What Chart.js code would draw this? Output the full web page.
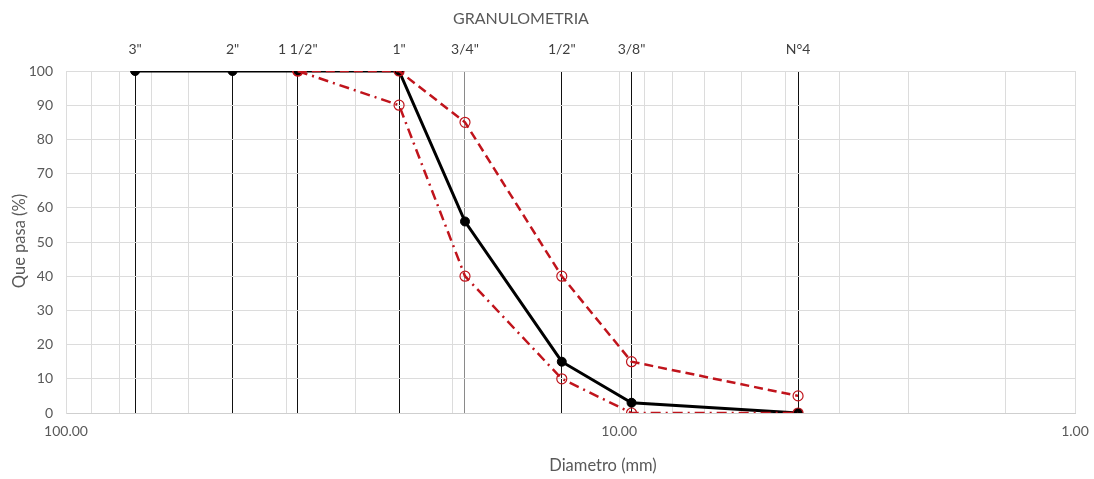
<!DOCTYPE html>
<html>
<head>
<meta charset="utf-8">
<script src="https://cdn.jsdelivr.net/npm/chart.js@4/dist/chart.umd.min.js"></script>
<style>
  html, body { margin: 0; padding: 0; background: #fff; }
  #wrap { width: 1094px; height: 479px; position: relative; }
</style>
</head>
<body>
<div id="wrap"><canvas id="chart"></canvas></div>
<script>
// Tamices y su abertura en mm
const sieveLabels = ['3"', '2"', '1 1/2"', '1"', '3/4"', '1/2"', '3/8"', 'N°4'];
const sieveSizes  = [75, 50, 38.1, 25, 19, 12.7, 9.5, 4.75];

// Porcentaje que pasa: muestra y límites del huso
const passing    = [100, 100, 100, 100, 56, 15, 3, 0];
const upperLimit = [null, null, 100, 100, 85, 40, 15, 5];
const lowerLimit = [null, null, 100, 90, 40, 10, 0, 0];

// Eje de diámetros (escala logarítmica invertida)
const xMax = 100;
const xMin = 1.5;
const xTickValues = [100, 10, 1.5];
const xTickLabels = ['100.00', '10.00', '1.00'];
const xMinorGrid  = [90, 80, 70, 60, 50, 40, 30, 20, 9, 8, 7, 6, 5, 4, 3, 2];

const toPoints = vals => sieveSizes
  .map((x, i) => (vals[i] === null ? null : { x: x, y: vals[i] }))
  .filter(p => p !== null);

const RED = '#c0141c';
const FONT = 'Lato, "Open Sans", sans-serif';
const GREY_TEXT = '#595959';

const titles = {
  id: 'titles',
  afterDraw(chart) {
    const c = chart.ctx;
    c.save();
    c.fillStyle = GREY_TEXT;
    c.textAlign = 'center';
    c.textBaseline = 'middle';
    c.font = '16px ' + FONT;
    c.fillText('GRANULOMETRIA', 521, 19);
    c.font = '16.5px ' + FONT;
    c.fillText('Diametro (mm)', 603, 466);
    c.translate(20, 241);
    c.rotate(-Math.PI / 2);
    c.fillText('Que pasa (%)', 0, 0);
    c.restore();
  }
};

new Chart(document.getElementById('chart'), {
  type: 'scatter',
  data: {
    datasets: [
      {
        label: 'Límite superior',
        data: toPoints(upperLimit),
        showLine: true,
        borderColor: RED,
        borderWidth: 2.5,
        borderDash: [9, 5],
        pointRadius: 5,
        pointBorderWidth: 1.2,
        pointBorderColor: RED,
        pointBackgroundColor: 'rgba(0,0,0,0)',
        order: 0
      },
      {
        label: 'Límite inferior',
        data: toPoints(lowerLimit),
        showLine: true,
        borderColor: RED,
        borderWidth: 2.5,
        borderDash: [10, 5, 2, 5],
        pointRadius: 5,
        pointBorderWidth: 1.2,
        pointBorderColor: RED,
        pointBackgroundColor: 'rgba(0,0,0,0)',
        order: 0
      },
      {
        label: 'Muestra',
        data: toPoints(passing),
        showLine: true,
        borderColor: '#000',
        borderWidth: 3,
        pointRadius: 4.5,
        pointBorderWidth: 1,
        pointBorderColor: '#000',
        pointBackgroundColor: '#000',
        order: 1
      }
    ]
  },
  options: {
    responsive: true,
    maintainAspectRatio: false,
    animation: false,
    layout: { padding: { top: 0, left: 0, right: 19, bottom: 0 } },
    plugins: {
      legend: { display: false },
      tooltip: { enabled: false },
      title: { display: false }
    },
    scales: {
      x: {
        type: 'logarithmic',
        position: 'bottom',
        reverse: true,
        min: xMin,
        max: xMax,
        afterBuildTicks: s => {
          s.ticks = xTickValues.concat(xMinorGrid).map(v => ({ value: v }));
        },
        afterFit: s => { s.height = 66; },
        ticks: {
          autoSkip: false,
          maxRotation: 0,
          padding: 10,
          color: GREY_TEXT,
          font: { family: FONT, size: 14 },
          callback: function (value) {
            const i = xTickValues.indexOf(value);
            return i >= 0 ? xTickLabels[i] : '';
          }
        },
        grid: { color: '#dcdcdc', lineWidth: 1, drawTicks: false },
        border: { color: '#cfcfcf' }
      },
      xTop: {
        type: 'logarithmic',
        position: 'top',
        reverse: true,
        min: xMin,
        max: xMax,
        afterBuildTicks: s => {
          s.ticks = sieveSizes.map(v => ({ value: v }));
        },
        afterFit: s => { s.height = 71; },
        ticks: {
          autoSkip: false,
          maxRotation: 0,
          padding: 13,
          color: '#404040',
          font: { family: FONT, size: 14 },
          callback: function (value) {
            const i = sieveSizes.indexOf(value);
            return i >= 0 ? sieveLabels[i] : '';
          }
        },
        grid: {
          drawTicks: false,
          lineWidth: 1,
          color: ctx => (ctx.tick && ctx.tick.value === 19 ? '#8a8a8a' : '#111')
        },
        border: { display: false }
      },
      y: {
        min: 0,
        max: 100,
        afterFit: s => { s.width = 66; },
        ticks: {
          stepSize: 10,
          padding: 13,
          color: GREY_TEXT,
          font: { family: FONT, size: 14 }
        },
        grid: { color: '#dcdcdc', drawTicks: false },
        border: { color: '#dcdcdc' }
      }
    }
  },
  plugins: [titles]
});
</script>
</body>
</html>
